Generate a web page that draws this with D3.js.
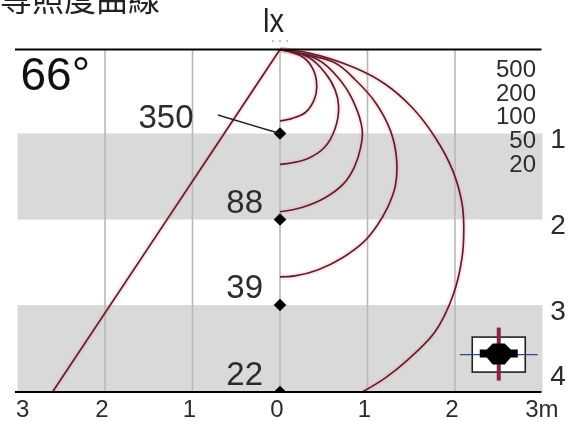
<!DOCTYPE html>
<html lang="zh-Hant">
<head>
  <meta charset="UTF-8">
  <title>等照度曲線</title>
  <script src="https://d3js.org/d3.v7.min.js"></script>
  <style>
    html, body { margin: 0; background: #fff; overflow: hidden; }
    svg { display: block; font-family: "Liberation Sans", sans-serif; filter: blur(.35px); }
    text { fill: #2c2c2c; }
    .contour { fill: none; stroke: #661b2a; stroke-width: 1.7; }
    .halo { fill: none; stroke: #e8a8a8; stroke-width: 6; opacity: .22; }
  </style>
</head>
<body>
  <svg id="chart" width="579" height="421"></svg>
  <script>
    // distances in metres: [sideways, down]
    const curve500 = [[0,0],[.26,.09],[.38,.24],[.42,.45],[.39,.6],[.29,.75],[.14,.82],[0,.85]];
    const curve200 = [[0,0],[.32,.09],[.51,.27],[.63,.48],[.67,.68],[.63,.94],[.51,1.16],[.32,1.29],[.14,1.34],[0,1.36]];
    const curve100 = [[0,0],[.43,.12],[.66,.33],[.83,.6],[.94,.96],[.92,1.17],[.85,1.39],[.73,1.58],[.51,1.75],[.25,1.86],[0,1.91]];
    const curve50 = [[0,0],[.63,.16],[.86,.36],[1.09,.63],[1.26,.96],[1.33,1.27],[1.32,1.6],[1.23,1.86],[1.11,2.07],[.96,2.26],[.71,2.45],[.43,2.59],[.17,2.66],[0,2.67]];
    const curve20 = [[0,0],[.32,.04],[.86,.22],[1.2,.41],[1.51,.69],[1.77,1.04],[1.97,1.42],[2.08,1.81],[2.1,2.09],[2.08,2.45],[1.98,2.88],[1.77,3.31],[1.46,3.63],[1.2,3.84],[.94,4]];
    const beamEdge = [[0,0],[-2.6,4]];

    const depths = [1, 2, 3, 4];
    const luxValues = [350, 88, 39, 22];
    const legendLabels = [500, 200, 100, 50, 20];
    const xTicks = [-3, -2, -1, 0, 1, 2, 3];
    const gridTicks = [-2, -1, 0, 1, 2];
    const bands = [[1, 2], [3, 4]];

    const svg = d3.select('#chart');
    const x = d3.scaleLinear().domain([-3, 3]).range([17.5, 542.5]);
    const y = d3.scaleLinear().domain([0, 1, 2, 3, 4]).range([49.5, 133.5, 219.5, 305, 392]);
    const line = d3.line().x(d => x(d[0])).y(d => y(d[1])).curve(d3.curveCatmullRom.alpha(.5));

    svg.append('clipPath').attr('id', 'plot').append('rect')
      .attr('x', 0).attr('y', 0).attr('width', 579).attr('height', y(4));

    // bands and grid
    svg.selectAll('.band').data(bands).join('rect')
      .attr('x', x(-3)).attr('width', x(3) - x(-3))
      .attr('y', d => y(d[0])).attr('height', d => y(d[1]) - y(d[0]))
      .attr('fill', '#d9d9d9');
    svg.selectAll('.grid').data(gridTicks).join('line')
      .attr('x1', d => x(d)).attr('x2', d => x(d))
      .attr('y1', y(0)).attr('y2', y(4))
      .attr('stroke', '#b9b9b9').attr('stroke-width', 1.6);

    // curves
    const curves = [curve500, curve200, curve100, curve50, curve20, beamEdge];
    svg.selectAll('.halo').data(curves).join('path').attr('class', 'halo').attr('d', line);
    svg.selectAll('.contour').data(curves).join('path').attr('class', 'contour').attr('d', line);

    // axis lines
    svg.selectAll('.rule').data([0, 4]).join('line')
      .attr('x1', 15).attr('x2', x(3) - 1)
      .attr('y1', d => y(d)).attr('y2', d => y(d))
      .attr('stroke', '#000').attr('stroke-width', 1.8);

    // measured points on the centre line
    const diamond = d3.symbol().type(d3.symbolSquare).size(80);
    svg.append('g').attr('clip-path', 'url(#plot)')
      .selectAll('path').data(depths).join('path')
      .attr('d', diamond)
      .attr('transform', d => `translate(${x(0)},${y(d)}) rotate(45)`)
      .attr('fill', '#000');
    svg.append('line')
      .attr('x1', x(-.71)).attr('y1', y(.78))
      .attr('x2', x(0)).attr('y2', y(1))
      .attr('stroke', '#222').attr('stroke-width', 1.5);

    // value labels
    svg.selectAll('.lux').data(luxValues).join('text')
      .attr('x', (d, i) => i === 0 ? x(-1) + 1 : x(0) - 17)
      .attr('y', (d, i) => y(depths[i]) - (i === 0 ? 5.5 : 7))
      .attr('text-anchor', 'end').attr('font-size', 33)
      .text(d => d);

    svg.selectAll('.legend').data(legendLabels).join('text')
      .attr('x', 536).attr('y', (d, i) => 77 + i * 23.7)
      .attr('text-anchor', 'end').attr('font-size', 24)
      .text(d => d);

    svg.selectAll('.depth').data(depths).join('text')
      .attr('x', 558).attr('y', d => Math.min(y(d) + 14.5, 385))
      .attr('text-anchor', 'middle').attr('font-size', 28)
      .text(d => d);

    svg.selectAll('.xlabel').data(xTicks).join('text')
      .attr('x', d => d === -3 ? x(d) - 1.5 : d === 3 ? x(d) + 16 : x(d) - 3)
      .attr('y', 417)
      .attr('text-anchor', d => d === -3 ? 'start' : d === 3 ? 'end' : 'middle')
      .attr('font-size', 24)
      .text(d => Math.abs(d) + (d === 3 ? 'm' : ''));

    svg.append('text').attr('x', 20.5).attr('y', 90)
      .attr('font-size', 46).style('fill', '#111').text('66°');

    svg.append('text').attr('x', 0).attr('y', 11)
      .attr('font-family', '"Noto Sans CJK TC"').attr('font-size', 32)
      .style('fill', '#222').text('等照度曲線');

    svg.append('text').attr('x', 263).attr('y', 32)
      .attr('font-size', 33).attr('textLength', 21).attr('lengthAdjust', 'spacingAndGlyphs')
      .style('fill', '#222').text('lx');
    svg.selectAll('.dot').data([-.08, 0, .08]).join('circle')
      .attr('cx', d => x(d)).attr('cy', 41).attr('r', .8).attr('fill', '#777');

    // luminaire symbol
    const lamp = svg.append('g').attr('transform', `translate(${x(2.5)},${y(3.57)})`);
    lamp.append('rect').attr('x', -26.5).attr('y', -17.5).attr('width', 53).attr('height', 35)
      .attr('fill', '#fff').attr('stroke', '#222').attr('stroke-width', 1.6);
    lamp.append('line').attr('x1', -39).attr('x2', 39).attr('stroke', '#34468c').attr('stroke-width', 1.4);
    lamp.append('line').attr('y1', -27).attr('y2', 26).attr('stroke', '#8a2444').attr('stroke-width', 4);
    lamp.append('polygon')
      .attr('points', '-19,-5 -12,-5 -6,-11 6,-11 12,-5 19,-5 19,3 12,3 6,10 -6,10 -12,3 -19,3')
      .attr('fill', '#000');
  </script>
</body>
</html>
